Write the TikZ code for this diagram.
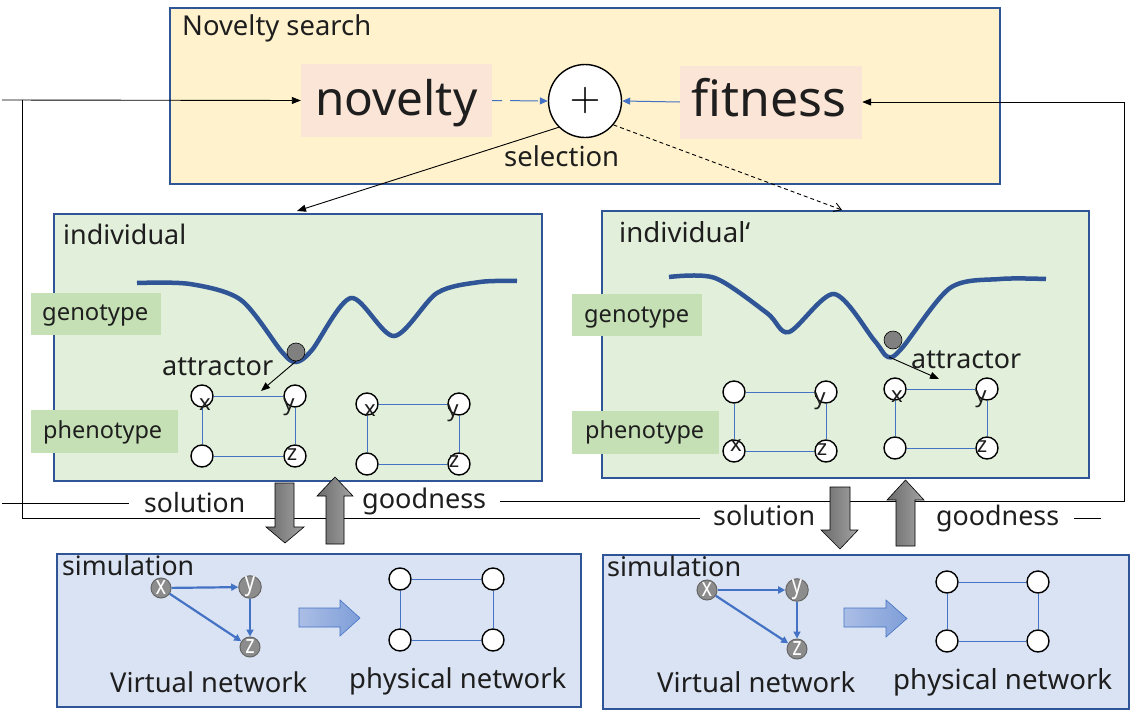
\documentclass[tikz,border=0pt]{standalone}
\usepackage{fontspec}
\setmainfont{Noto Sans}
\usepackage{graphicx}
\usetikzlibrary{arrows.meta}
\definecolor{bord}{HTML}{2F5597}
\definecolor{yel}{HTML}{FFF2CC}
\definecolor{peach}{HTML}{FBE5D6}
\definecolor{grn}{HTML}{E2EFDA}
\definecolor{grnlab}{HTML}{C5E0B4}
\definecolor{bluebg}{HTML}{DAE3F3}
\definecolor{acc}{HTML}{4472C4}
\definecolor{txt}{HTML}{1E1E1E}
\definecolor{blA}{HTML}{ABBEE6}
\definecolor{blB}{HTML}{7F9ED8}
\newcommand{\tw}[2]{\resizebox{#1pt}{!}{#2}}
\begin{document}
\begin{tikzpicture}[x=1pt,y=-1pt,
  panel/.style={draw=bord,line width=2.2pt,anchor=north west,inner sep=0},
  lab/.style={fill=grnlab,anchor=north west,inner sep=0},
  txtn/.style={inner sep=0,anchor=base west,text=txt},
  ln/.style={black,line width=0.9pt},
  arr/.style={ln,-{Triangle[length=9pt,width=7pt]}},
  barr/.style={acc,line width=1pt,-{Triangle[length=8pt,width=7pt]}},
  pnode/.style={circle,draw=black,fill=white,line width=1.4pt,minimum size=22pt,inner sep=0},
  vnode/.style={circle,draw=black!60,fill=black!45,line width=1pt,minimum size=20pt,inner sep=0,text=white,font=\fontsize{20}{20}\selectfont},
  pedge/.style={acc,line width=0.9pt},
  vedge/.style={acc,line width=2.2pt,-{Triangle[length=7pt,width=7pt]}},
  letter/.style={inner sep=0,text=txt,font=\fontsize{22}{22}\selectfont},
  curve/.style={bord,line width=4.5pt},
  ballst/.style={circle,draw=black,line width=0.6pt,fill=black!50,minimum size=18pt,inner sep=0},
  blockg/.style={draw=black,line width=0.6pt,left color=black!58,right color=black!36},
  blockb/.style={draw=acc,line width=0.6pt,left color=blA,right color=blB}
]
\useasboundingbox (0,0) rectangle (1130,720);
\fill[white] (0,0) rectangle (1130,720);

% panels
\node[panel,fill=yel,minimum width=830pt,minimum height=176pt] (ns) at (169,7) {};
\node[panel,fill=grn,minimum width=488pt,minimum height=267pt] (indL) at (53,213) {};
\node[panel,fill=grn,minimum width=487pt,minimum height=267pt] (indR) at (601,210) {};
\node[panel,fill=bluebg,minimum width=524pt,minimum height=153pt] (simL) at (56,553) {};
\node[panel,fill=bluebg,minimum width=526pt,minimum height=154pt] (simR) at (602,554) {};

% top content
\node[txtn] (tNS) at (182,35) {\tw{189}{Novelty search}};
\node[fill=peach,minimum width=191pt,minimum height=73pt,inner sep=0] (nov) at (396.5,100.5) {};
\node[txtn] (tnov) at (315,115) {\tw{162}{novelty}};
\node[fill=peach,minimum width=182pt,minimum height=73pt,inner sep=0] (fit) at (771,102) {};
\node[txtn] (tfit) at (691,116) {\tw{155}{f\kern0pt itness}};
\node[circle,draw=black,fill=white,line width=1.4pt,minimum size=73pt,inner sep=0] (plus) at (585,101) {\resizebox{31pt}{!}{$+$}};
\node[txtn] (tsel) at (504,166) {\tw{115}{selection}};

% labels
\node[lab,minimum width=130pt,minimum height=42pt] (genL) at (31,293) {};
\node[lab,minimum width=130pt,minimum height=42pt] (genR) at (572,294) {};
\node[lab,minimum width=147pt,minimum height=43pt] (phL) at (31,410) {};
\node[lab,minimum width=147pt,minimum height=43pt] (phR) at (572,411) {};

\node[txtn] (tindL) at (63,244) {\tw{123}{individual}};
\node[txtn] (tindR) at (619,242) {\tw{131}{individual‘}};
\node[txtn] (tgenL) at (42,320) {\tw{106}{genotype}};
\node[txtn] (tgenR) at (584,322) {\tw{105}{genotype}};
\node[txtn] (tphL) at (43,438) {\tw{119}{phenotype}};
\node[txtn] (tphR) at (585,438) {\tw{119}{phenotype}};
\node[txtn] (tattL) at (162,375) {\tw{111}{attractor}};
\node[txtn] (tattR) at (911,368) {\tw{110}{attractor}};

% genotype curves
\draw[curve] plot[smooth,tension=0.5] coordinates {(137,283) (190,284) (241,300) (282,352) (296,362) (312,350) (351,298) (394,336) (437,293) (480,282) (517,281)};
\draw[curve] plot[smooth,tension=0.5] coordinates {(669,277) (715,278) (767,313) (789,332) (834,294) (874,340) (888,357) (902,348) (950,288) (1000,279) (1046,279)};
\node[ballst] (ballL) at (296,352) {};
\node[ballst] (ballR) at (893,340) {};
\coordinate (attLtip) at (261,391);
\coordinate (attRs) at (889,357);
\coordinate (attRtip) at (939,379);
\draw[arr] (ballL.south) -- (attLtip);
\draw[arr] (attRs) -- (attRtip);

% phenotype networks
\foreach \p/\ax/\ay/\bx/\by in {L1/202/396/295/456, L2/367/404/459/464, R1/734/392/826/451, R2/895/389/987/448}{
  \node[pnode] (n\p a) at (\ax,\ay) {};
  \node[pnode] (n\p b) at (\bx,\ay) {};
  \node[pnode] (n\p c) at (\ax,\by) {};
  \node[pnode] (n\p d) at (\bx,\by) {};
  \draw[pedge] (n\p a) -- (n\p b);
  \draw[pedge] (n\p b) -- (n\p d);
  \draw[pedge] (n\p c) -- (n\p d);
  \draw[pedge] (n\p a) -- (n\p c);
}
\node[letter] (lxL1) at (205,405) {x};
\node[letter] (lyL1) at (289,407) {y};
\node[letter] (lzL1) at (292,455) {z};
\node[letter] (lxL2) at (370,411) {x};
\node[letter] (lyL2) at (453,413) {y};
\node[letter] (lzL2) at (454,462) {z};
\node[letter] (lxR1) at (736,446) {x};
\node[letter] (lyR1) at (820,401) {y};
\node[letter] (lzR1) at (822,450) {z};
\node[letter] (lxR2) at (897,397) {x};
\node[letter] (lyR2) at (981,399) {y};
\node[letter] (lzR2) at (982,447) {z};

% simulation boxes
\node[txtn] (tsimL) at (62,575) {\tw{132}{simulation}};
\node[txtn] (tsimR) at (607,576) {\tw{134}{simulation}};
\node[txtn] (tvnL) at (110,692) {\tw{197}{Virtual network}};
\node[txtn] (tpnL) at (349,688) {\tw{217}{physical network}};
\node[txtn] (tvnR) at (657,692) {\tw{198}{Virtual network}};
\node[txtn] (tpnR) at (893,689) {\tw{219}{physical network}};

\foreach \s/\xx/\yx/\xy/\yy/\xz/\yz in {L/161/588/250/587/250/647, R/707/590/797/590/797/649}{
  \node[vnode] (v\s x) at (\xx,\yx) {\scalebox{1}[1.3]{x}};
  \node[vnode] (v\s y) at (\xy,\yy) {\scalebox{1}[1.3]{y}};
  \node[vnode] (v\s z) at (\xz,\yz) {\scalebox{1}[1.3]{z}};
  \draw[vedge] (v\s x) -- (v\s y);
  \draw[vedge] (v\s y) -- (v\s z);
  \draw[vedge] (v\s x) -- (v\s z);
}
\foreach \s/\ax/\ay/\bx/\by in {L/400/579/493/640, R/947/582/1038/641}{
  \node[pnode] (p\s a) at (\ax,\ay) {};
  \node[pnode] (p\s b) at (\bx,\ay) {};
  \node[pnode] (p\s c) at (\ax,\by) {};
  \node[pnode] (p\s d) at (\bx,\by) {};
  \draw[pedge] (p\s a) -- (p\s b);
  \draw[pedge] (p\s b) -- (p\s d);
  \draw[pedge] (p\s c) -- (p\s d);
  \draw[pedge] (p\s a) -- (p\s c);
}
\draw[blockb] (299,608) -- (340,608) -- (340,600) -- (360,618) -- (340,636) -- (340,627) -- (299,627) -- cycle;
\draw[blockb] (844,608) -- (886,608) -- (886,600) -- (907,618.5) -- (886,637) -- (886,627) -- (844,627) -- cycle;

% solution / goodness labels
\node[txtn] (tsolL) at (144,512) {\tw{101}{solution}};
\node[txtn] (tgoodL) at (362,508) {\tw{124}{goodness}};
\node[txtn] (tsolR) at (713,525) {\tw{102}{solution}};
\node[txtn] (tgoodR) at (936,525) {\tw{123}{goodness}};

% feedback lines
\coordinate (inA) at (2,100);
\coordinate (vTop) at (22,100);
\coordinate (solRend) at (700,518);
\coordinate (solLs) at (2,503);
\coordinate (solLe) at (129,503);
\coordinate (goodLs) at (500,501);
\coordinate (vR) at (1124,0);
\coordinate (goodRs) at (1074,518);
\coordinate (goodRe) at (1101,518);
\draw[arr] (inA) -- (nov.west);
\draw[ln] (vTop) |- (solRend);
\draw[ln] (solLs) -- (solLe);
\draw[arr] (goodLs) -| (fit.east -| vR) -- (fit.east);
\draw[ln] (goodRs) -- (goodRe);

% top arrows
\draw[barr,dash pattern=on 28pt off 8pt,dash phase=18pt] (nov.east) -- (plus.west);
\draw[barr] (fit.west) -- (plus.east);
\coordinate (selLtip) at (297,211);
\coordinate (selRtip) at (842,210);
\draw[arr] (plus.225) -- (selLtip);
\draw[ln,dash pattern=on 4pt off 3pt,-{Straight Barb[length=7pt,width=9pt]}] (plus.-40) -- (selRtip);

% gray block arrows
\draw[blockg] (275,483) -- (294,483) -- (294,527) -- (304,527) -- (285,543) -- (266,527) -- (275,527) -- cycle;
\draw[blockg] (326,544) -- (344,544) -- (344,496) -- (353,496) -- (335,477) -- (317,496) -- (326,496) -- cycle;
\draw[blockg] (830,487) -- (850,487) -- (850,530) -- (858,530) -- (840,549) -- (821,530) -- (830,530) -- cycle;
\draw[blockg] (896,546) -- (915,546) -- (915,500) -- (924,500) -- (905.5,480) -- (887,500) -- (896,500) -- cycle;
\end{tikzpicture}
\end{document}
